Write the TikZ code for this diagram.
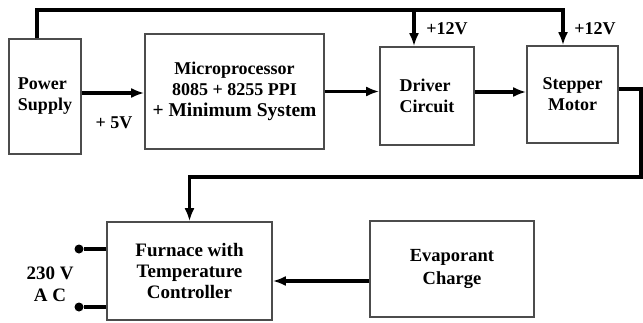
\documentclass[tikz,border=0pt]{standalone}
\usepackage{fontspec}
\setmainfont{Liberation Serif}
\usetikzlibrary{arrows.meta}

\tikzset{
  blk/.style={draw=black!70, line width=1.6pt, font=\fontsize{18}{21}\selectfont\bfseries, align=center, inner sep=2pt},
  wire/.style={line width=3.2pt, -{Latex[length=13pt,width=10pt]}},
  bus/.style={line width=3.2pt},
  lbl/.style={font=\fontsize{18}{20}\selectfont\bfseries, align=center, inner sep=0pt},
  dot/.style={circle, fill=black, inner sep=0pt, minimum size=9pt}
}

\begin{document}
\begin{tikzpicture}[x=1pt,y=1pt]
    \useasboundingbox (0,0) rectangle (643,322);

    % blocks, top row
    \node[blk, minimum width=72pt, minimum height=115pt, align=left] (ps) at (45,225.5) {Power\\Supply};
    \node[blk, minimum width=179pt, minimum height=115pt] (mpu) at (234.5,230.5) {Microprocessor\\8085 + 8255 PPI\\{\fontsize{19.5}{21}\selectfont + Minimum System}};
    \node[blk, minimum width=94pt, minimum height=98pt, align=left] (drv) at (427,226) {Driver\\Circuit};
    \node[blk, minimum width=91pt, minimum height=97pt] (stm) at (572.5,227.5) {Stepper\\Motor};

    % blocks, bottom row
    \node[blk, minimum width=165pt, minimum height=98pt, font=\fontsize{19}{21}\selectfont\bfseries] (fur) at (189.5,51) {Furnace with\\Temperature\\Controller};
    \node[blk, minimum width=164pt, minimum height=96pt, font=\fontsize{18.5}{23}\selectfont\bfseries] (eva) at (452,53) {Evaporant\\Charge};

    % supply bus
    \coordinate (bus) at (563,312);
    \coordinate (turn) at (641,145);
    \draw[wire] ([xshift=-8pt]ps.north) |- (bus) -- (bus |- stm.north);
    \draw[wire] ([xshift=-13pt]drv.north |- bus) -- ([xshift=-13pt]drv.north);

    % signal path
    \draw[wire] ([yshift=3.5pt]ps.east) -- ([yshift=3.5pt]ps.east -| mpu.west);
    \draw[wire] (mpu.east) -- (mpu.east -| drv.west);
    \draw[wire] ([yshift=4pt]drv.east) -- ([yshift=4pt]drv.east -| stm.west);
    \draw[wire] ([yshift=5.5pt]stm.east) -| (turn) -| (fur.north);
    \draw[wire] ([yshift=-12pt]eva.west) -- ([yshift=-12pt]eva.west -| fur.east);

    % mains terminals
    \node[dot] (ac1) at (79,73) {};
    \node[dot] (ac2) at (79,15) {};
    \draw[bus] (ac1) -- (ac1 -| fur.west);
    \draw[bus] (ac2) -- (ac2 -| fur.west);

    % labels
    \node[lbl] (v5) at (114,199) {+ 5V};
    \node[lbl] (v12a) at (447,293) {+12V};
    \node[lbl] (v12b) at (595,293) {+12V};
    \node[lbl, font=\fontsize{19}{22}\selectfont\bfseries] (vac) at (50,38) {230 V\\A C};
\end{tikzpicture}
\end{document}
